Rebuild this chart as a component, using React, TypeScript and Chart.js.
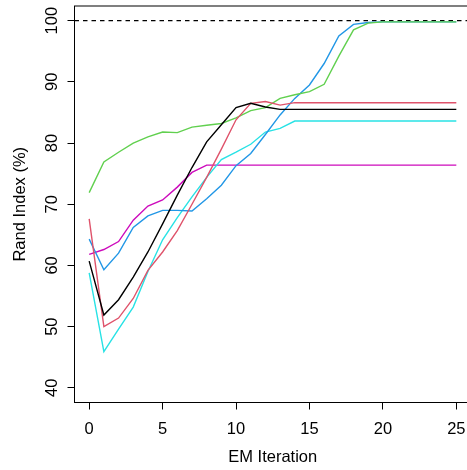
import { useEffect, useRef } from "react";
import { Chart, registerables } from "chart.js";

Chart.register(...registerables);

const FONT = "'Liberation Sans', Arial, Helvetica, sans-serif";
const FONT_SIZE = 16.5;

// EM iteration index (x values)
const iterations = [0, 1, 2, 3, 4, 5, 6, 7, 8, 9, 10, 11, 12, 13, 14, 15, 16, 17, 18, 19, 20, 21, 22, 23, 24, 25];

// Rand index (%) per iteration for six EM runs
const runBlack = [60.7, 51.9, 54.4, 58.1, 62.2, 66.8, 71.5, 76.0, 80.2, 83.0, 85.8, 86.5, 85.9, 85.5, 85.5, 85.5, 85.5, 85.5, 85.5, 85.5, 85.5, 85.5, 85.5, 85.5, 85.5, 85.5];
const runRed = [67.6, 50.0, 51.4, 54.6, 59.2, 62.2, 65.7, 70.0, 74.4, 79.0, 83.8, 86.5, 86.8, 86.2, 86.6, 86.6, 86.6, 86.6, 86.6, 86.6, 86.6, 86.6, 86.6, 86.6, 86.6, 86.6];
const runGreen = [71.9, 76.9, 78.5, 80.0, 81.0, 81.8, 81.7, 82.6, 82.9, 83.2, 84.1, 85.3, 85.8, 87.3, 87.9, 88.4, 89.6, 94.2, 98.5, 99.6, 99.8, 99.8, 99.8, 99.8, 99.8, 99.8];
const runBlue = [64.3, 59.3, 62.0, 66.2, 68.1, 69.0, 69.0, 68.9, 70.9, 73.1, 76.3, 78.3, 81.4, 84.6, 87.3, 89.5, 93.0, 97.5, 99.4, 99.7, 99.8, 99.8, 99.8, 99.8, 99.8, 99.8];
const runCyan = [58.8, 45.9, 49.6, 53.2, 59.0, 64.2, 67.8, 71.2, 74.4, 77.3, 78.5, 79.8, 81.8, 82.4, 83.6, 83.6, 83.6, 83.6, 83.6, 83.6, 83.6, 83.6, 83.6, 83.6, 83.6, 83.6];
const runMagenta = [61.8, 62.6, 63.9, 67.4, 69.7, 70.7, 72.8, 75.2, 76.4, 76.4, 76.4, 76.4, 76.4, 76.4, 76.4, 76.4, 76.4, 76.4, 76.4, 76.4, 76.4, 76.4, 76.4, 76.4, 76.4, 76.4];

const runs = [runBlack, runRed, runGreen, runBlue, runCyan, runMagenta];
const runColors = ["#000000", "#DF536B", "#61D04F", "#2297E6", "#28E2E5", "#CD0BBC"];

// perfect-agreement reference level
const referenceLevel = 100;

const xTicks = [0, 5, 10, 15, 20, 25];
const yTicks = [40, 50, 60, 70, 80, 90, 100];

const xRange = [-1, 26];
const yRange = [37.6, 102.4];

const CANVAS_W = 471;
const CANVAS_H = 470;

// Box around the plotting region plus rotated y tick labels
const framePlugin = {
  id: "frame",
  afterDraw(chart: any) {
    const { ctx, chartArea: a, scales } = chart;
    ctx.save();
    ctx.strokeStyle = "#000";
    ctx.lineWidth = 1;
    ctx.strokeRect(a.left, a.top, a.right - a.left, a.bottom - a.top);

    ctx.fillStyle = "#000";
    ctx.font = `${FONT_SIZE}px ${FONT}`;
    ctx.textAlign = "center";
    ctx.textBaseline = "alphabetic";
    for (const v of yTicks) {
      const py = scales.y.getPixelForValue(v);
      ctx.save();
      ctx.translate(56.8, py);
      ctx.rotate(-Math.PI / 2);
      ctx.fillText(String(v), 0, 0);
      ctx.restore();
    }
    ctx.restore();
  },
};

export default function App() {
  const canvasRef = useRef<HTMLCanvasElement | null>(null);

  useEffect(() => {
    const canvas = canvasRef.current;
    if (!canvas) return;

    const datasets: any[] = runs.map((values, k) => ({
      data: iterations.map((x, i) => ({ x, y: values[i] })),
      borderColor: runColors[k],
      borderWidth: 1.4,
      pointRadius: 0,
      tension: 0,
      fill: false,
    }));

    datasets.push({
      data: [
        { x: xRange[0], y: referenceLevel },
        { x: xRange[1], y: referenceLevel },
      ],
      borderColor: "#000000",
      borderWidth: 1.3,
      borderDash: [4.5, 4],
      pointRadius: 0,
      fill: false,
    });

    const font = { family: FONT, size: FONT_SIZE };

    const chart = new Chart(canvas, {
      type: "line",
      data: { datasets },
      plugins: [framePlugin],
      options: {
        animation: false,
        responsive: false,
        devicePixelRatio: 1,
        layout: { padding: { top: 6, right: 0, bottom: 0, left: 0 } },
        plugins: {
          legend: { display: false },
          tooltip: { enabled: false },
        },
        scales: {
          x: {
            type: "linear",
            min: xRange[0],
            max: xRange[1],
            afterBuildTicks: (s: any) => {
              s.ticks = xTicks.map((value) => ({ value }));
            },
            afterFit: (s: any) => {
              s.height = 67.5;
              s.paddingLeft = 0;
              s.paddingRight = 0;
            },
            ticks: {
              font,
              color: "#000",
              padding: 10.5,
              maxRotation: 0,
              minRotation: 0,
              autoSkip: false,
            },
            grid: {
              drawOnChartArea: false,
              drawTicks: true,
              tickLength: 7,
              color: "#000",
              lineWidth: 1,
            },
            border: { display: false },
            title: {
              display: true,
              text: "EM Iteration",
              font,
              color: "#000",
              padding: { top: 0, bottom: 3 },
            },
          },
          y: {
            type: "linear",
            min: yRange[0],
            max: yRange[1],
            afterBuildTicks: (s: any) => {
              s.ticks = yTicks.map((value) => ({ value }));
            },
            afterFit: (s: any) => {
              s.width = 74.5;
              s.paddingTop = 0;
              s.paddingBottom = 0;
            },
            ticks: { display: false },
            grid: {
              drawOnChartArea: false,
              drawTicks: true,
              tickLength: 7,
              color: "#000",
              lineWidth: 1,
            },
            border: { display: false },
            title: {
              display: true,
              text: "Rand Index (%)",
              font,
              color: "#000",
              padding: { top: 11, bottom: 0 },
            },
          },
        },
      },
    });

    return () => chart.destroy();
  }, []);

  return (
    <div
      style={{
        position: "absolute",
        left: 0,
        top: 0,
        width: 467,
        height: 470,
        overflow: "hidden",
        background: "#fff",
      }}
    >
      <canvas
        ref={canvasRef}
        width={CANVAS_W}
        height={CANVAS_H}
        style={{ display: "block", width: CANVAS_W, height: CANVAS_H }}
      />
    </div>
  );
}
